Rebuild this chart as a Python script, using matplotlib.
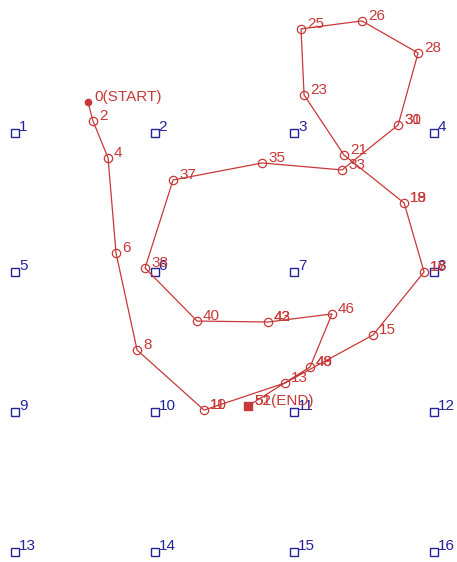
import matplotlib.pyplot as plt

# landmarks on a 4x4 grid (unit spacing, y grows downward)
lm_ids = list(range(1, 17))
lm_x = [0, 1, 2, 3] * 4
lm_y = [0] * 4 + [1] * 4 + [2] * 4 + [3] * 4

# robot path vertices and the step labels drawn at each one
path_x = [0.523, 0.559, 0.667, 0.724, 0.875, 1.355, 1.935, 2.566, 2.932, 2.789,
          2.358, 2.072, 2.050, 2.487, 2.889, 2.746, 2.344, 1.771, 1.133, 0.932,
          1.305, 1.814, 2.272, 2.115, 1.670]
path_y = [-0.222, -0.086, 0.179, 0.860, 1.556, 1.986, 1.792, 1.448, 0.996, 0.502,
          0.158, -0.272, -0.746, -0.803, -0.573, -0.057, 0.265, 0.215, 0.337, 0.968,
          1.348, 1.355, 1.297, 1.677, 1.957]
path_labels = [["0(START)"], ["2"], ["4"], ["6"], ["8"], ["10", "11"], ["13"],
               ["15"], ["16", "17"], ["18", "19"], ["21"], ["23"], ["25"], ["26"],
               ["28"], ["30", "31"], ["33"], ["35"], ["37"], ["38"], ["40"],
               ["42", "43"], ["46"], ["48", "49"], ["51", "52(END)"]]

red = '#c83838'
blue = '#22229a'
plt.rcParams['font.family'] = ['Liberation Sans', 'DejaVu Sans']

fig = plt.figure(figsize=(4.57, 5.62), dpi=100, facecolor='white')
ax = fig.add_axes([0, 0, 1, 1], frameon=False)
ax.set_xticks([]); ax.set_yticks([])
ax.set_xlim(-0.1075, 3.168)
ax.set_ylim(3.075, -0.953)

# landmarks
ax.plot(lm_x, lm_y, 's', ms=5.8, mfc='none', mec=blue, mew=1, ls='none')
for i, x, y in zip(lm_ids, lm_x, lm_y):
    ax.annotate(str(i), (x, y), xytext=(4, -1), textcoords='offset pixels',
                color=blue, fontsize=11, ha='left', va='bottom')

# path
ax.plot(path_x, path_y, '-', color=red, lw=0.9)
ax.plot(path_x[1:-1], path_y[1:-1], 'o', ms=6, mfc='none', mec=red, mew=0.9, ls='none')
ax.plot(path_x[0], path_y[0], 'o', ms=4.5, color=red)
ax.plot(path_x[-1], path_y[-1], 's', ms=5.8, color=red)
for labs, x, y in zip(path_labels, path_x, path_y):
    for lab in labs:
        ax.annotate(lab, (x, y), xytext=(6, -2), textcoords='offset pixels',
                    color=red, fontsize=11, ha='left', va='bottom')

fig.savefig('out.png', dpi=100, facecolor='white')
